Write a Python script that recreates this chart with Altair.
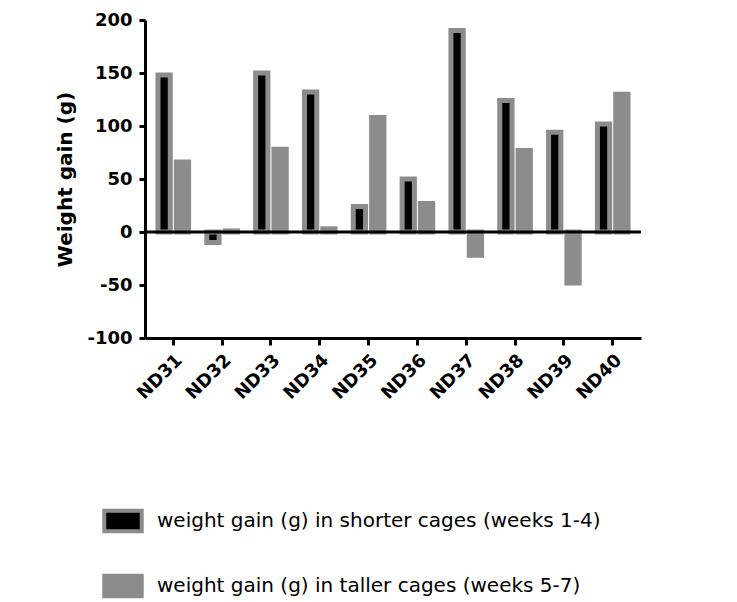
import altair as alt
import pandas as pd

animals = ["ND31", "ND32", "ND33", "ND34", "ND35", "ND36", "ND37", "ND38", "ND39", "ND40"]
shorter_cages = [148, -10, 150, 132, 24, 50, 190, 124, 94, 102]
taller_cages = [66, 1, 78, 3, 108, 27, -22, 77, -48, 130]
series_names = [
    "weight gain (g) in shorter cages (weeks 1-4)",
    "weight gain (g) in taller cages (weeks 5-7)",
]
y_ticks = [-100, -50, 0, 50, 100, 150, 200]

rows = []
for i, a in enumerate(animals):
    rows.append({"animal": a, "series": series_names[0], "gain": shorter_cages[i]})
    rows.append({"animal": a, "series": series_names[1], "gain": taller_cages[i]})
df = pd.DataFrame(rows)

GRAY = "#8c8c8c"
W, H = 496, 318

bars = alt.Chart(df).mark_bar(stroke=GRAY, strokeWidth=5).encode(
    x=alt.X(
        "animal:N",
        sort=animals,
        scale=alt.Scale(paddingInner=0.373, paddingOuter=0.266),
        axis=alt.Axis(
            title=None,
            labelAngle=-45,
            labelAlign="right",
            labelFontSize=18,
            labelFontWeight="bold",
            labelPadding=6,
            tickSize=7,
        ),
    ),
    xOffset=alt.XOffset(
        "series:N", sort=series_names, scale=alt.Scale(paddingInner=0.33, paddingOuter=0)
    ),
    y=alt.Y(
        "gain:Q",
        scale=alt.Scale(domain=[-100, 200], nice=False),
        axis=alt.Axis(
            values=y_ticks,
            labelExpr="'' + datum.value",
            title="Weight gain (g)",
            titleFontSize=20,
            titleFontWeight="bold",
            titlePadding=11,
            labelFontSize=18,
            labelFontWeight="bold",
            labelPadding=7,
            tickSize=6,
            grid=False,
        ),
    ),
    fill=alt.Fill(
        "series:N",
        sort=series_names,
        scale=alt.Scale(domain=series_names, range=["black", GRAY]),
        legend=alt.Legend(
            title=None,
            orient="none",
            legendX=-43,
            legendY=480,
            direction="vertical",
            symbolType="M-1,-0.55H1V0.55H-1Z",
            symbolSize=1400,
            symbolStrokeColor=GRAY,
            symbolStrokeWidth=4,
            labelFontSize=20,
            labelFont="DejaVu Sans",
            labelOffset=13,
            labelLimit=0,
            rowPadding=25,
            padding=0,
        ),
    ),
)

zero_line = alt.Chart(pd.DataFrame({"y": [0]})).mark_rule(color="black", strokeWidth=3).encode(
    y="y:Q"
)

chart = (
    alt.layer(bars, zero_line)
    .properties(width=W, height=H, padding={"left": 47, "top": 3, "right": 5, "bottom": 5})
    .configure(font="DejaVu Sans")
    .configure_view(strokeWidth=0, stroke="transparent")
    .configure_axis(
        domainColor="black",
        domainWidth=3,
        tickColor="black",
        tickWidth=3,
        labelColor="black",
        titleColor="black",
    )
)

chart.save("out.html", embed_options={"renderer": "svg", "actions": False})
